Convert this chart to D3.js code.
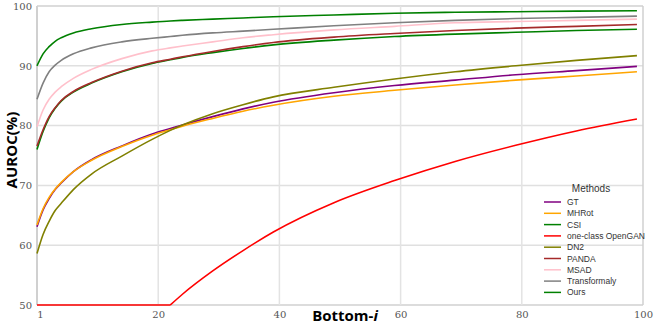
<!DOCTYPE html>
<html>
<head>
<meta charset="utf-8">
<script src="https://cdn.jsdelivr.net/npm/d3@7"></script>
<style>
  body { margin: 0; background: #fff; }
  svg { display: block; }
</style>
</head>
<body>
<div id="chart"></div>
<script>
const bottomI = [1, 2, 3, 4, 5, 7, 10, 15, 20, 23, 25, 30, 35, 40, 50, 60, 70, 80, 90, 100],
	methods = ['GT', 'MHRot', 'CSI', 'one-class OpenGAN', 'DN2', 'PANDA', 'MSAD', 'Transformaly', 'Ours'],
	colors = ['#800080', '#ffa500', '#008000', '#ff0000', '#808000', '#a52a2a', '#ffc0cb', '#808080', '#008000'],
	xTicks = [0, 20, 40, 60, 80, 100],
	xTickLabels = ['1', '20', '40', '60', '80', '100'],
	yTicks = [50, 60, 70, 80, 90, 100];

const gt = [63.1, 65.9, 67.8, 69.3, 70.4, 72.3, 74.3, 76.6, 78.6, 79.5, 80.1, 81.5, 82.8, 83.9, 85.5, 86.7, 87.6, 88.5, 89.2, 89.9],
	mhrot = [63.4, 66.1, 68.0, 69.4, 70.5, 72.3, 74.2, 76.5, 78.4, 79.3, 79.9, 81.2, 82.4, 83.4, 84.9, 85.9, 86.8, 87.6, 88.3, 89.0],
	csi = [76.0, 79.0, 81.3, 82.9, 84.1, 85.6, 87.1, 89.0, 90.4, 91.0, 91.4, 92.2, 92.9, 93.5, 94.3, 94.9, 95.3, 95.6, 95.9, 96.1],
	opengan = [50, 50, 50, 50, 50, 50, 50, 50, 50, 50, 51.8, 55.7, 59.1, 62.2, 67.1, 70.8, 74.0, 76.7, 79.1, 81.1],
	dn2 = [58.6, 61.8, 64.0, 65.8, 67.0, 69.3, 71.9, 74.9, 77.7, 79.2, 80.1, 82.0, 83.5, 84.8, 86.4, 87.8, 89.0, 90.0, 90.9, 91.7],
	panda = [76.6, 79.3, 81.5, 83.0, 84.2, 85.7, 87.2, 89.1, 90.5, 91.1, 91.5, 92.4, 93.2, 93.9, 94.8, 95.4, 95.9, 96.3, 96.6, 96.9],
	msad = [79.8, 82.6, 84.4, 85.6, 86.5, 87.9, 89.4, 91.2, 92.5, 93.0, 93.3, 94.0, 94.7, 95.2, 96.0, 96.6, 97.2, 97.4, 97.6, 97.8],
	transformaly = [84.4, 87.1, 89.0, 90.1, 90.9, 92.0, 93.0, 94.0, 94.6, 94.9, 95.1, 95.5, 95.8, 96.1, 96.7, 97.2, 97.6, 97.9, 98.1, 98.3],
	ours = [90.0, 92.0, 93.2, 94.1, 94.7, 95.5, 96.2, 96.9, 97.3, 97.5, 97.6, 97.8, 98.0, 98.2, 98.5, 98.8, 98.95, 99.05, 99.15, 99.2];

const series = [gt, mhrot, csi, opengan, dn2, panda, msad, transformaly, ours];

const W = 654, H = 327,
	margin = {top: 6, right: 11, bottom: 22, left: 37},
	width = W - margin.left - margin.right,
	height = H - margin.top - margin.bottom;

const svg = d3.select('#chart')
	.append('svg')
	.attr('width', W)
	.attr('height', H);

const g = svg.append('g')
	.attr('transform', `translate(${margin.left},${margin.top})`);

// scales: first point sits on the left edge
const x = d3.scaleLinear().domain([0, 100]).range([0, width]);
const y = d3.scaleLinear().domain([50, 100]).range([height, 0]);

// grid
g.selectAll('.hgrid')
	.data(yTicks)
	.enter()
	.append('line')
		.attr('x1', 0)
		.attr('x2', width)
		.attr('y1', d => y(d))
		.attr('y2', d => y(d))
		.attr('stroke', d => (d === 50 || d === 100) ? '#d0d0d0' : '#e0e0e0')
		.attr('stroke-width', 1.5);

g.selectAll('.vgrid')
	.data(xTicks.slice(1))
	.enter()
	.append('line')
		.attr('x1', d => x(d))
		.attr('x2', d => x(d))
		.attr('y1', 0)
		.attr('y2', height)
		.attr('stroke', d => d === 100 ? '#d0d0d0' : '#e3e3e3')
		.attr('stroke-width', 1.5);

g.append('line')
	.attr('x1', 0).attr('x2', 0)
	.attr('y1', 0).attr('y2', height)
	.attr('stroke', '#d0d0d0')
	.attr('stroke-width', 2);

// axes (labels only)
const yAxis = d3.axisLeft(y).tickValues(yTicks).tickSize(0).tickPadding(5);
const xAxis = d3.axisBottom(x).tickValues(xTicks)
	.tickFormat((d, i) => xTickLabels[i]).tickSize(0).tickPadding(6);

const ya = g.append('g').call(yAxis);
const xa = g.append('g').attr('transform', `translate(0,${height})`).call(xAxis);
[ya, xa].forEach(a => {
	a.select('.domain').remove();
	a.selectAll('text')
		.attr('fill', '#555')
		.style('font-family', '"DejaVu Serif", serif')
		.style('font-size', '10px');
});
xa.selectAll('text').filter((d, i) => i === 0).attr('dx', 3);

// lines
const pts = s => s.map((v, i) => [bottomI[i], v]);

const line = d3.line()
	.x(d => x(d[0] - 1))
	.y(d => y(d[1]))
	.curve(d3.curveMonotoneX);

// the flat floor part of a series is drawn straight, the rest curved
const pathFor = s => {
	const p = pts(s);
	let k = 0;
	while (k < p.length - 1 && p[k + 1][1] === 50) k++;
	if (k === 0) return line(p);
	return d3.line().x(d => x(d[0] - 1)).y(d => y(d[1]))(p.slice(0, k + 1)) + line(p.slice(k));
};

g.selectAll('.series')
	.data(series)
	.enter()
	.append('path')
		.attr('fill', 'none')
		.attr('stroke', (d, i) => colors[i])
		.attr('stroke-width', 1.6)
		.attr('d', pathFor);

// axis titles
svg.append('text')
	.attr('transform', 'translate(17,150) rotate(-90)')
	.attr('text-anchor', 'middle')
	.style('font-family', '"Open Sans", sans-serif')
	.style('font-weight', 'bold')
	.style('font-size', '15px')
	.text('AUROC(%)');

const xt = svg.append('text')
	.attr('x', 345)
	.attr('y', 321)
	.attr('text-anchor', 'middle')
	.style('font-family', '"Open Sans", sans-serif')
	.style('font-weight', 'bold')
	.style('font-size', '15px');
xt.append('tspan').text('Bottom-');
xt.append('tspan').style('font-style', 'italic').text('i');

// legend
const legend = svg.append('g').attr('transform', 'translate(544,202)');
legend.append('text')
	.attr('x', 47)
	.attr('y', -10)
	.attr('text-anchor', 'middle')
	.attr('fill', '#333')
	.style('font-family', '"Liberation Sans", sans-serif')
	.style('font-size', '10px')
	.text('Methods');

const items = legend.selectAll('.item')
	.data(methods)
	.enter()
	.append('g')
		.attr('transform', (d, i) => `translate(0,${i * 11.3})`);

items.append('line')
	.attr('x1', 0).attr('x2', 17)
	.attr('stroke', (d, i) => colors[i])
	.attr('stroke-width', 1.5);

items.append('text')
	.attr('x', 23)
	.attr('y', 3)
	.attr('fill', '#333')
	.style('font-family', '"Liberation Sans", sans-serif')
	.style('font-size', '8.5px')
	.text(d => d);
</script>
</body>
</html>
